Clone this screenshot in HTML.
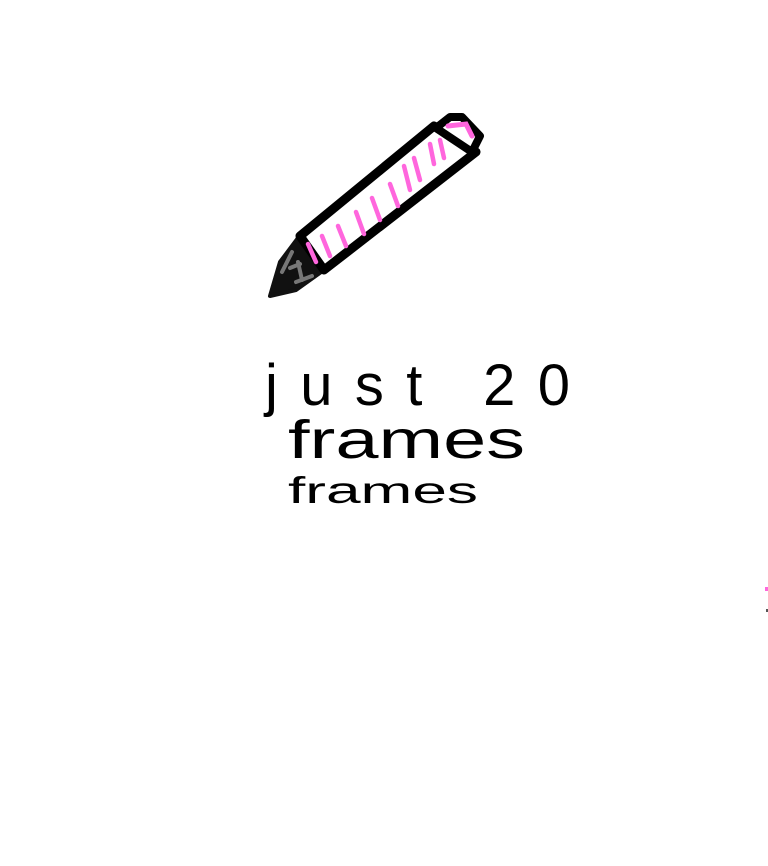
<!DOCTYPE html>
<html><head><style>html,body{margin:0;padding:0;background:#fff;width:768px;height:866px;overflow:hidden}</style></head>
<body>
<svg width="768" height="866" xmlns="http://www.w3.org/2000/svg">
<rect width="768" height="866" fill="#fff"/>
<!-- tip -->
<path d="M298,238 L280,262 L270,296 L296,290 L324,270 Z" fill="#111" stroke="#111" stroke-width="4" stroke-linejoin="round"/>
<path d="M292,252 L282,272 M290,268 L300,264 M298,262 L302,280 M296,282 L312,276" stroke="#777" stroke-width="4" fill="none" stroke-linecap="round"/>
<!-- body -->
<path d="M300,236 L434,126 L476,152 L324,270 Z" fill="#fff" stroke="#000" stroke-width="9" stroke-linejoin="round"/>
<!-- cap -->
<path d="M436,128 L450,117 L462,117 L480,136 L472,152 Z" fill="#fff" stroke="#000" stroke-width="8" stroke-linejoin="round"/>
<path d="M448,126 L466,124 L472,136" stroke="#ff66dd" stroke-width="5" fill="none" stroke-linecap="round"/>
<g stroke="#ff66dd" stroke-width="4.5" fill="none" stroke-linecap="round">
<path d="M308,244 L316,262"/><path d="M322,236 L330,256"/><path d="M338,226 L346,246"/>
<path d="M356,212 L364,234"/><path d="M372,198 L380,220"/><path d="M390,184 L398,206"/>
<path d="M404,166 L410,190"/><path d="M414,158 L420,180"/><path d="M430,144 L434,164"/><path d="M440,140 L444,158"/>
</g>
<rect x="765" y="587" width="3" height="4" fill="#ff66dd"/>
<rect x="766" y="609" width="2" height="3" fill="#555"/>
<g font-family="Liberation Sans, sans-serif" fill="#000">
<text x="265" y="405" font-size="58" textLength="305" lengthAdjust="spacing">just 20</text>
<text x="288" y="458" font-size="54" textLength="237" lengthAdjust="spacingAndGlyphs">frames</text>
<text x="288" y="503" font-size="37" textLength="190" lengthAdjust="spacingAndGlyphs">frames</text>
</g>
</svg>
</body></html>
